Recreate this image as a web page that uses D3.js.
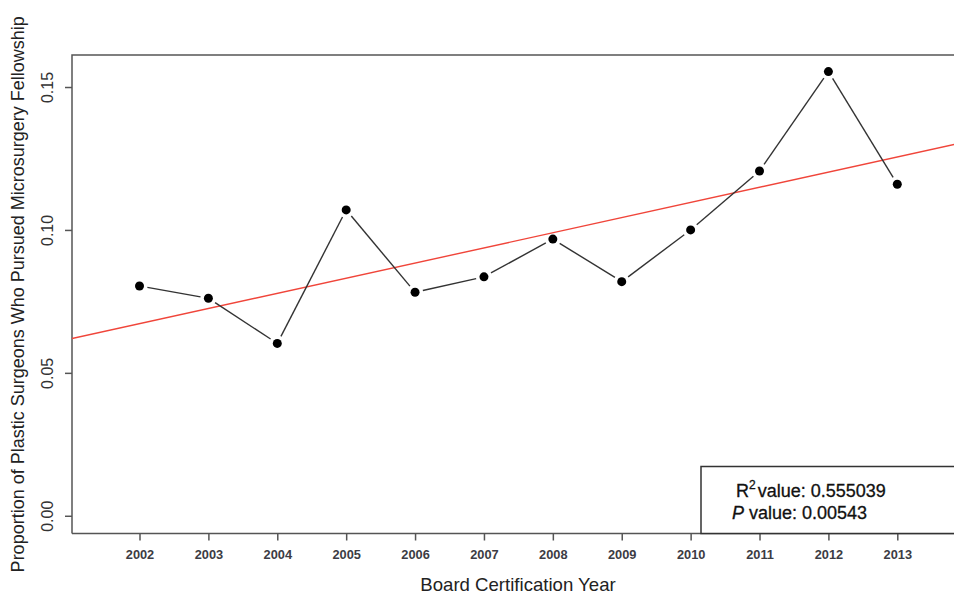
<!DOCTYPE html>
<html><head><meta charset="utf-8">
<script src="https://cdn.jsdelivr.net/npm/d3@7"></script>
<style>html,body{margin:0;padding:0;background:#fff;overflow:hidden}</style>
</head><body>
<svg id="c" width="954" height="596"></svg>
<script>
const years = [2002,2003,2004,2005,2006,2007,2008,2009,2010,2011,2012,2013];
const proportions = [0.0804,0.0761,0.0603,0.1070,0.0782,0.0836,0.0968,0.0819,0.1000,0.1206,0.1554,0.1160];
const yTicks = [0.00,0.05,0.10,0.15];
const xTicks = years;
const statLines = ["value: 0.555039","value: 0.00543"];

const svg = d3.select("#c");
const L=72, R=968, T=55, B=533.5;
const x = d3.scaleLinear().domain([2002,2013]).range([139.5,897.3]);
const y = d3.scaleLinear().domain([-0.0062,0.1612]).range([B,T]);
const font = "Liberation Sans, Arial, sans-serif";
const axisCol = "#555";

svg.append("defs").append("clipPath").attr("id","pc")
  .append("rect").attr("x",L).attr("y",T).attr("width",R-L).attr("height",B-T);

// frame (left, top, bottom)
svg.append("path").attr("d",`M${L},${B}V${T}H${R}`).attr("fill","none").attr("stroke",axisCol).attr("stroke-width",1.5);
svg.append("line").attr("x1",L).attr("x2",R).attr("y1",B).attr("y2",B).attr("stroke",axisCol).attr("stroke-width",1.5);

// x axis
const xa = svg.append("g").attr("transform",`translate(0,${B})`)
  .call(d3.axisBottom(x).tickValues(xTicks).tickFormat(d3.format("d")).tickSize(7).tickPadding(9));
xa.select(".domain").remove();
xa.selectAll("line").attr("stroke",axisCol).attr("stroke-width",1.5);
xa.selectAll("text").attr("font-family",font).attr("font-size","12.8px").attr("fill","#3c3c44").attr("font-weight","bold");

// y axis
const ya = svg.append("g").attr("transform",`translate(${L},0)`)
  .call(d3.axisLeft(y).tickValues(yTicks).tickFormat(d3.format(".2f")).tickSize(7).tickPadding(0));
ya.select(".domain").remove();
ya.selectAll("line").attr("stroke",axisCol).attr("stroke-width",1.5);
ya.selectAll("text").attr("font-family",font).attr("font-size","16px").attr("fill","#333")
  .attr("text-anchor","middle").attr("x",null).attr("dy",null)
  .attr("transform","translate(-19,0) rotate(-90)");

// axis titles
svg.append("text").attr("x",518).attr("y",591).attr("text-anchor","middle")
  .attr("font-family",font).attr("font-size","18.6px").attr("fill","#222").text("Board Certification Year");
svg.append("text").attr("transform",`translate(24,${(T+B)/2}) rotate(-90)`).attr("text-anchor","middle")
  .attr("font-family",font).attr("font-size","18px").attr("fill","#222")
  .text("Proportion of Plastic Surgeons Who Pursued Microsurgery Fellowship");

const plot = svg.append("g").attr("clip-path","url(#pc)");

// regression line (least squares from data)
const mx = d3.mean(years), my = d3.mean(proportions);
const slope = d3.sum(years,(d,i)=>(d-mx)*(proportions[i]-my))/d3.sum(years,d=>(d-mx)*(d-mx));
const icpt = my - slope*mx;
const xa0 = x.invert(L), xa1 = x.invert(R);
plot.append("line").attr("x1",x(xa0)).attr("x2",x(xa1))
  .attr("y1",y(icpt+slope*xa0)).attr("y2",y(icpt+slope*xa1))
  .attr("stroke","#f0453a").attr("stroke-width",1.4);

// type "b" segments with gaps
const gap = 8;
for(let i=0;i<years.length-1;i++){
  const x1=x(years[i]), y1=y(proportions[i]), x2=x(years[i+1]), y2=y(proportions[i+1]);
  const dx=x2-x1, dy=y2-y1, len=Math.hypot(dx,dy);
  const ux=dx/len, uy=dy/len;
  plot.append("line").attr("x1",x1+ux*gap).attr("y1",y1+uy*gap)
    .attr("x2",x2-ux*gap).attr("y2",y2-uy*gap)
    .attr("stroke","#333").attr("stroke-width",1.4);
}
plot.selectAll("circle.pt").data(years).enter().append("circle")
  .attr("cx",d=>x(d)).attr("cy",(d,i)=>y(proportions[i])).attr("r",4.5).attr("fill","#000");

// legend box
svg.append("rect").attr("x",701).attr("y",466.5).attr("width",300).attr("height",B-466.5)
  .attr("fill","#fff").attr("stroke","#333").attr("stroke-width",1.5);
const t1 = svg.append("text").attr("x",736).attr("y",497).attr("font-family",font).attr("font-size","18px")
  .attr("fill","#111").attr("stroke","#111").attr("stroke-width",0.3);
t1.append("tspan").text("R");
t1.append("tspan").attr("font-size","12px").attr("dy",-8).text("2");
t1.append("tspan").attr("dy",8).attr("dx",2).text(statLines[0]);
const t2 = svg.append("text").attr("x",732).attr("y",519).attr("font-family",font).attr("font-size","18px")
  .attr("fill","#111").attr("stroke","#111").attr("stroke-width",0.3);
t2.append("tspan").attr("font-style","italic").text("P");
t2.append("tspan").text(" "+statLines[1]);
</script>
</body></html>
